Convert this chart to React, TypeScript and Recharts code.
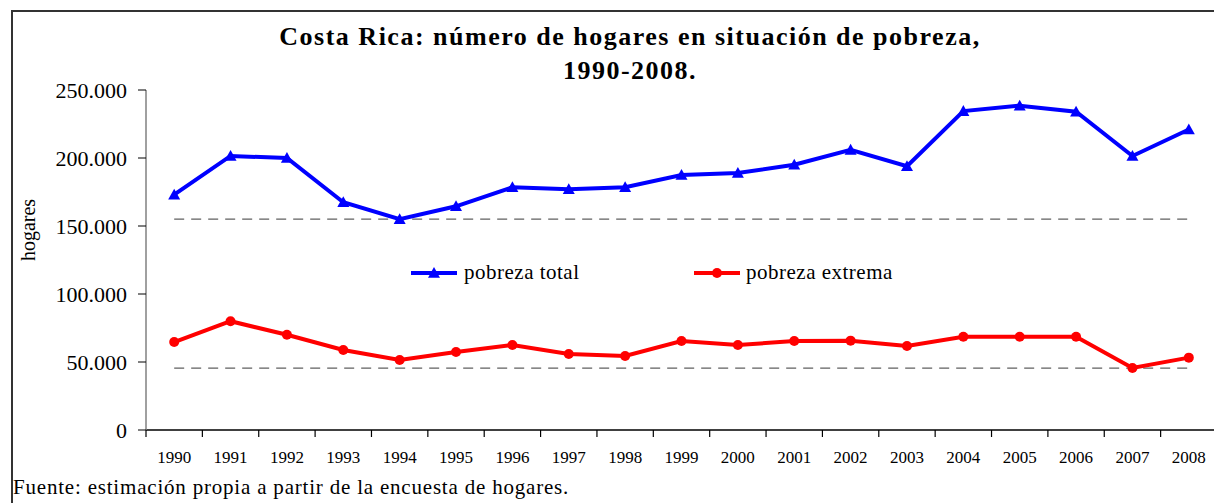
import React from 'react';
import { LineChart, Line, XAxis, YAxis, ReferenceLine, Legend } from 'recharts';

const years = [1990, 1991, 1992, 1993, 1994, 1995, 1996, 1997, 1998, 1999, 2000, 2001, 2002, 2003, 2004, 2005, 2006, 2007, 2008];
const pobrezaTotal = [173000, 201500, 200000, 167500, 155000, 164500, 178500, 177000, 178500, 187500, 189000, 195000, 206000, 194000, 234500, 238500, 234000, 201500, 221000];
const pobrezaExtrema = [64700, 80000, 70000, 58800, 51500, 57400, 62500, 55900, 54400, 65400, 62500, 65400, 65700, 61800, 68600, 68600, 68600, 45600, 53200];
const minimoTotal = 155000;
const minimoExtrema = 45500;
const yTicks = [0, 50000, 100000, 150000, 200000, 250000];
const yearBoundaries = [1989.5, 1990.5, 1991.5, 1992.5, 1993.5, 1994.5, 1995.5, 1996.5, 1997.5, 1998.5, 1999.5, 2000.5, 2001.5, 2002.5, 2003.5, 2004.5, 2005.5, 2006.5, 2007.5, 2008.5];
const titleLine1 = 'Costa Rica: número de hogares en situación de pobreza,';
const titleLine2 = '1990-2008.';
const yLabel = 'hogares';
const serieTotal = 'pobreza total';
const serieExtrema = 'pobreza extrema';
const fuente = 'Fuente: estimación propia a partir de la encuesta de hogares.';

const data = years.map((y, i) => ({ year: y, total: pobrezaTotal[i], extrema: pobrezaExtrema[i] }));

const FONT = '"Liberation Serif", "Times New Roman", serif';
const BLUE = '#0000FF';
const RED = '#FF0000';

const fmt = (v: number) => String(v).replace(/\B(?=(\d{3})+(?!\d))/g, '.');

const TriangleDot = (props: any) => {
  const { cx, cy, index } = props;
  if (cx == null || cy == null) return null;
  const s = 6;
  return <path key={`t-${index}`} d={`M${cx},${cy - s} L${cx + s},${cy + s * 0.8} L${cx - s},${cy + s * 0.8} Z`} fill={BLUE} />;
};

const CircleDot = (props: any) => {
  const { cx, cy, index } = props;
  if (cx == null || cy == null) return null;
  return <circle key={`c-${index}`} cx={cx} cy={cy} r={5} fill={RED} />;
};

const MarkTick = (props: any) => {
  const { x, y } = props;
  if (x == null || y == null) return <g />;
  return <line x1={x} x2={x} y1={y - 7} y2={y} stroke="#000" strokeWidth={1.2} />;
};

const renderLegend = () => (
  <div style={{ position: 'relative', width: 1214, height: 30, fontFamily: FONT, fontSize: 21, letterSpacing: 0.5, color: '#000' }}>
    <div style={{ position: 'absolute', left: 403, top: 0, display: 'flex', alignItems: 'center' }}>
      <svg width={48} height={20}>
        <line x1={0} y1={10} x2={46} y2={10} stroke={BLUE} strokeWidth={4} />
        <path d="M23,4 L29,14.8 L17,14.8 Z" fill={BLUE} />
      </svg>
      <span style={{ marginLeft: 5 }}>{serieTotal}</span>
    </div>
    <div style={{ position: 'absolute', left: 686, top: 0, display: 'flex', alignItems: 'center' }}>
      <svg width={48} height={20}>
        <line x1={0} y1={10} x2={46} y2={10} stroke={RED} strokeWidth={4} />
        <circle cx={23} cy={10} r={5} fill={RED} />
      </svg>
      <span style={{ marginLeft: 4 }}>{serieExtrema}</span>
    </div>
  </div>
);

export default function App() {
  return (
    <div style={{ position: 'relative', width: 1214, height: 495, fontFamily: FONT, background: '#fff' }}>
      <div style={{ position: 'absolute', left: 3, top: 2, width: 1300, height: 600, borderLeft: '2px solid #333', borderTop: '2px solid #333', boxSizing: 'border-box' }} />
      <div style={{ position: 'absolute', left: 0, top: 12, width: 1244, textAlign: 'center', fontWeight: 'bold', fontSize: 26, lineHeight: '34px', color: '#000', letterSpacing: 1.5 }}>
        <div>{titleLine1}</div>
        <div>{titleLine2}</div>
      </div>
      <div style={{ position: 'absolute', left: 20 - 40, top: 222 - 12, width: 80, height: 24, textAlign: 'center', fontSize: 20, lineHeight: '24px', transform: 'rotate(-90deg)', color: '#000' }}>{yLabel}</div>
      <div style={{ position: 'absolute', left: 0, top: 0 }}>
        <LineChart width={1214} height={470} data={data} margin={{ top: 82, right: 5, left: 0, bottom: 18 }}>
          <XAxis xAxisId="b" type="number" dataKey="year" domain={[1989.5, 2008.5]} ticks={years} interval={0} axisLine={false} tickLine={false} tickSize={0} tickMargin={13} height={22} allowDataOverflow tick={{ fontSize: 17, fill: '#000', fontFamily: FONT }} />
          <XAxis xAxisId="a" type="number" dataKey="year" domain={[1989.5, 2008.5]} ticks={yearBoundaries} interval={0} tick={MarkTick} tickSize={7} tickMargin={0} tickLine={false} axisLine={{ stroke: '#000', strokeWidth: 1.5 }} height={8} allowDataOverflow />
          <YAxis domain={[0, 250000]} ticks={yTicks} tickFormatter={fmt} width={138} tickSize={8} tickMargin={11} axisLine={{ stroke: '#808080', strokeWidth: 1.5 }} tickLine={{ stroke: '#000' }} tick={{ fontSize: 22, fill: '#000', fontFamily: FONT }} interval={0} />
          <ReferenceLine xAxisId="b" segment={[{ x: 1990, y: minimoTotal }, { x: 2008, y: minimoTotal }]} stroke="#606060" strokeWidth={1.3} strokeDasharray="10 7" />
          <ReferenceLine xAxisId="b" segment={[{ x: 1990, y: minimoExtrema }, { x: 2008, y: minimoExtrema }]} stroke="#606060" strokeWidth={1.3} strokeDasharray="10 7" />
          <Legend layout="horizontal" verticalAlign="middle" content={renderLegend} wrapperStyle={{ top: 252, left: 0, width: 1214 }} />
          <Line xAxisId="b" type="linear" dataKey="total" name={serieTotal} stroke={BLUE} strokeWidth={4} dot={TriangleDot} activeDot={false} isAnimationActive={false} />
          <Line xAxisId="b" type="linear" dataKey="extrema" name={serieExtrema} stroke={RED} strokeWidth={4} dot={CircleDot} activeDot={false} isAnimationActive={false} />
        </LineChart>
      </div>
      <div style={{ position: 'absolute', left: 5, top: 467, fontSize: 21, letterSpacing: 0.8, color: '#000', whiteSpace: 'nowrap' }}>{fuente}</div>
    </div>
  );
}
